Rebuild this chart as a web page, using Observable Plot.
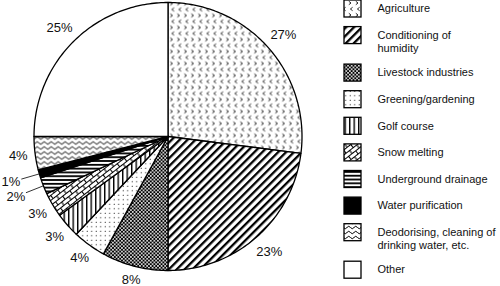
<!DOCTYPE html>
<html><head><meta charset="utf-8">
<script src="https://cdn.jsdelivr.net/npm/d3@7"></script>
<script src="https://cdn.jsdelivr.net/npm/@observablehq/plot@0.6"></script>
<style>
html,body{margin:0;padding:0;background:#fff;}
#wrap{display:flex;width:500px;height:286px;overflow:hidden;}
</style></head><body>
<svg width="0" height="0" style="position:absolute">
<defs>
  <pattern id="pAgri" patternUnits="userSpaceOnUse" width="7" height="12">
    <rect width="7" height="12" fill="white"/>
    <path d="M1.8,1.3 L4,3 L1.8,4.7 M5.6,7.3 L3.4,9 L5.6,10.7" fill="none" stroke="black" stroke-width="0.85"/>
  </pattern>
  <pattern id="pCond" patternUnits="userSpaceOnUse" width="5.6" height="10" patternTransform="rotate(45)">
    <rect width="5.6" height="10" fill="white"/>
    <rect width="2.3" height="10" fill="black"/>
  </pattern>
  <pattern id="pLive" patternUnits="userSpaceOnUse" width="3.6" height="3.6">
    <rect width="3.6" height="3.6" fill="black"/>
    <rect x="0.05" y="0.05" width="1.6" height="1.6" fill="white"/>
    <rect x="1.85" y="1.85" width="1.6" height="1.6" fill="white"/>
  </pattern>
  <pattern id="pGreen" patternUnits="userSpaceOnUse" width="4.5" height="4.5">
    <rect width="4.5" height="4.5" fill="white"/>
    <circle cx="1.2" cy="1.2" r="0.6" fill="black"/>
  </pattern>
  <pattern id="pGolf" patternUnits="userSpaceOnUse" width="4.5" height="10">
    <rect width="4.5" height="10" fill="white"/>
    <rect width="1.4" height="10" fill="black"/>
  </pattern>
  <pattern id="pSnow" patternUnits="userSpaceOnUse" width="9" height="8" patternTransform="rotate(-38)">
    <rect width="9" height="8" fill="white"/>
    <path d="M0,0.5 H9 M0,4.5 H9 M0.5,0.5 V4.5 M5,4.5 V8.5" fill="none" stroke="black" stroke-width="1.1"/>
  </pattern>
  <pattern id="pUnder" patternUnits="userSpaceOnUse" width="10" height="3.8">
    <rect width="10" height="3.8" fill="white"/>
    <rect width="10" height="1.8" fill="black"/>
  </pattern>
  <pattern id="pDeod" patternUnits="userSpaceOnUse" width="7" height="5">
    <rect width="7" height="5" fill="white"/>
    <path d="M0,2.5 Q1.75,0 3.5,2.5 T7,2.5" fill="none" stroke="black" stroke-width="1"/>
  </pattern>
</defs></svg>
<div id="wrap"></div>
<script>
// ---- data ----
const categories = ["Agriculture", "Conditioning of humidity", "Livestock industries", "Greening/gardening",
  "Golf course", "Snow melting", "Underground drainage", "Water purification",
  "Deodorising, cleaning of drinking water, etc.", "Other"];
const legendLabels = ["Agriculture", "Conditioning of\nhumidity", "Livestock industries", "Greening/gardening",
  "Golf course", "Snow melting", "Underground drainage", "Water purification",
  "Deodorising, cleaning of\ndrinking water, etc.", "Other"];
const shares = [27, 23, 8, 4, 3, 3, 2, 1, 4, 25];
const shareLabels = ["27%", "23%", "8%", "4%", "3%", "3%", "2%", "1%", "4%", "25%"];

// ---- styles ----
const fills = ["url(#pAgri)", "url(#pCond)", "url(#pLive)", "url(#pGreen)", "url(#pGolf)",
  "url(#pSnow)", "url(#pUnder)", "black", "url(#pDeod)", "white"];
const FONT = "'Liberation Sans', Arial, Helvetica, sans-serif";
const PCT_SIZE = 13;
const RADIUS_PX = 134;

// ---- pie geometry (unit circle, clockwise from 12 o'clock) ----
const arcs = d3.pie().sort(null).value(d => d)(shares);
const pt = (a, r) => ({x: r * Math.sin(a), y: r * Math.cos(a)});
const slices = arcs.map((a, i) => {
  const n = Math.max(2, Math.ceil((a.endAngle - a.startAngle) / (Math.PI / 180)));
  const pts = [pt(0, 0)];
  for (let k = 0; k <= n; k++) pts.push(pt(a.startAngle + (a.endAngle - a.startAngle) * k / n, 1));
  pts.push(pt(0, 0));
  return {i, name: categories[i], value: shares[i], label: shareLabels[i],
          mid: (a.startAngle + a.endAngle) / 2, pts};
});
const small = s => s.value <= 2;
// label distance: keep the label's box a fixed gap outside the rim
const labelR = s => {
  if (small(s)) return 1.22;
  const hw = PCT_SIZE * (0.556 * (s.label.length - 1) + 0.889) / 2;
  const hh = PCT_SIZE * 0.36;
  const gap = 7;
  return 1 + (gap + hw * Math.abs(Math.sin(s.mid)) + hh * Math.abs(Math.cos(s.mid))) / RADIUS_PX;
};

const pieMarks = slices.map(s => Plot.line(s.pts, {
  x: "x", y: "y", fill: fills[s.i], stroke: "black", strokeWidth: 1.3, strokeLinejoin: "round"
}));

const pie = Plot.plot({
  width: 340, height: 286, margin: 0,
  x: {domain: [-1.25, 1.2873], axis: null},
  y: {domain: [-1.1194, 1.0149], axis: null},
  style: {fontFamily: FONT, background: "white", overflow: "visible"},
  marks: [
    ...pieMarks,
    Plot.link(slices.filter(small), {
      x1: s => pt(s.mid, 1).x, y1: s => pt(s.mid, 1).y,
      x2: s => pt(s.mid, 1.14).x, y2: s => pt(s.mid, 1.14).y,
      stroke: "black", strokeWidth: 0.8
    }),
    Plot.text(slices, {
      x: s => pt(s.mid, labelR(s)).x, y: s => pt(s.mid, labelR(s)).y,
      text: "label", fontSize: PCT_SIZE, fill: "#111"
    })
  ]
});

// ---- legend ----
const lineCount = legendLabels.map(t => t.split("\n").length);
let yy = 8;
const items = legendLabels.map((t, i) => {
  const it = {i, label: t, y: yy};
  yy += lineCount[i] > 1 ? 37.5 : 26.6;
  return it;
});
const legend = Plot.plot({
  width: 160, height: 286, margin: 0,
  x: {domain: [0, 160], axis: null},
  y: {domain: [0, 286], range: [0, 286], axis: null},
  color: {type: "identity"},
  style: {fontFamily: FONT, background: "white", overflow: "visible"},
  marks: [
    Plot.rect(items, {
      x1: () => 4, x2: () => 21, y1: d => d.y - 8, y2: d => d.y + 9,
      fill: d => fills[d.i], stroke: "black", strokeWidth: 1.3
    }),
    Plot.text(items, {
      x: () => 37, y: "y", text: "label", textAnchor: "start", lineAnchor: "top",
      dy: -5.5, fontSize: 11, lineHeight: 1.18, fill: "#111"
    })
  ]
});

const wrap = document.getElementById("wrap");
wrap.appendChild(pie);
wrap.appendChild(legend);
</script>
</body></html>
